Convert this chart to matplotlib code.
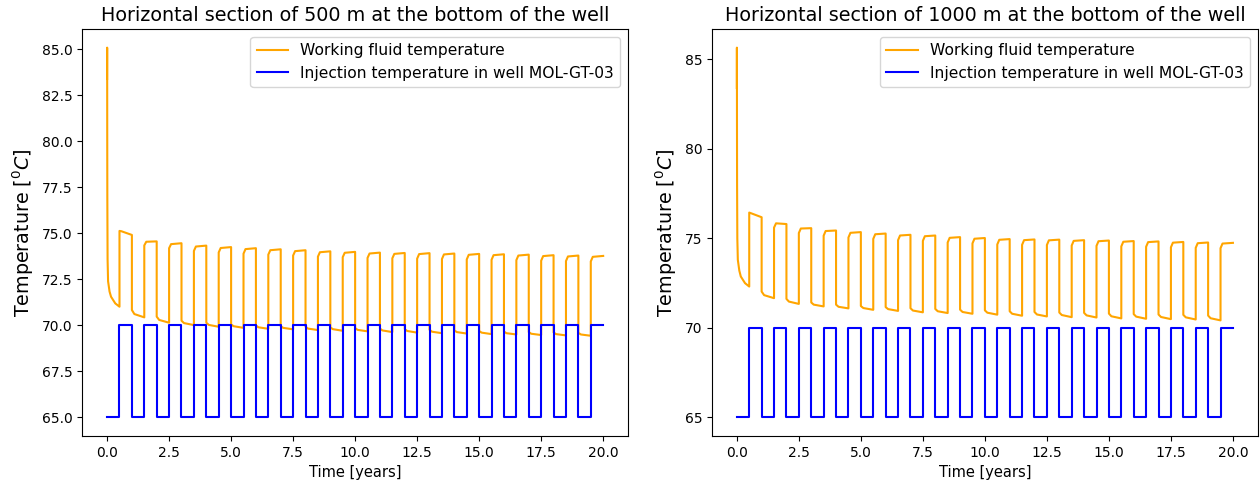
import numpy as np
import matplotlib
matplotlib.use("Agg")
import matplotlib.pyplot as plt

# ---------------- data ----------------
titles = ["Horizontal section of 500 m at the bottom of the well",
          "Horizontal section of 1000 m at the bottom of the well"]
label_fluid = "Working fluid temperature"
label_inj = "Injection temperature in well MOL-GT-03"

# injection temperature: switching times [years] and values (steps-post)
inj_switch_times = [0.0, 0.5, 1.0, 1.5, 2.0, 2.5, 3.0, 3.5, 4.0, 4.5, 5.0,
                    5.5, 6.0, 6.5, 7.0, 7.5, 8.0, 8.5, 9.0, 9.5, 10.0,
                    10.5, 11.0, 11.5, 12.0, 12.5, 13.0, 13.5, 14.0, 14.5, 15.0,
                    15.5, 16.0, 16.5, 17.0, 17.5, 18.0, 18.5, 19.0, 19.5, 20.0]
inj_temps = [65, 70, 65, 70, 65, 70, 65, 70, 65, 70, 65,
             70, 65, 70, 65, 70, 65, 70, 65, 70, 65,
             70, 65, 70, 65, 70, 65, 70, 65, 70, 65,
             70, 65, 70, 65, 70, 65, 70, 65, 70, 70]

# initial transient of working fluid temperature
init_t = [0.0, 0.003, 0.006, 0.01, 0.02, 0.04, 0.1, 0.16, 0.33, 0.5]
init_T_500 = [83.4, 85.1, 80.5, 77.0, 73.6, 72.4, 71.84, 71.56, 71.2, 71.02]
init_T_1000 = [83.4, 85.65, 81.5, 78.0, 75.0, 73.8, 73.2, 72.87, 72.5, 72.31]

# high-injection half-cycles (start at 0.5, 1.5, ... 19.5): top of rise, knee, end
high_rise_500 = [75.14, 74.35, 74.20, 74.05, 73.97, 73.90, 73.85, 73.80, 73.74, 73.71,
                 73.67, 73.65, 73.63, 73.61, 73.59, 73.57, 73.55, 73.52, 73.50, 73.48]
high_knee_500 = [75.12, 74.55, 74.42, 74.29, 74.21, 74.15, 74.09, 74.04, 73.98, 73.95,
                 73.91, 73.89, 73.88, 73.86, 73.84, 73.82, 73.80, 73.77, 73.75, 73.73]
high_end_500 = [74.92, 74.57, 74.47, 74.34, 74.26, 74.20, 74.14, 74.09, 74.03, 74.00,
                73.96, 73.94, 73.93, 73.91, 73.89, 73.87, 73.85, 73.82, 73.80, 73.78]
# low-injection half-cycles (start at 1.0, 2.0, ... 19.0): bottom of drop, knee, end
low_drop_500 = [70.84, 70.48, 70.26, 70.15, 70.06, 70.00, 69.96, 69.93, 69.90, 69.86,
                69.83, 69.80, 69.76, 69.73, 69.70, 69.67, 69.64, 69.62, 69.60]
low_knee_500 = [70.62, 70.30, 70.13, 70.03, 69.96, 69.90, 69.87, 69.83, 69.80, 69.76,
                69.73, 69.70, 69.66, 69.64, 69.61, 69.58, 69.55, 69.53, 69.51]
low_end_500 = [70.44, 70.15, 70.02, 69.93, 69.87, 69.82, 69.79, 69.75, 69.71, 69.68,
               69.64, 69.61, 69.58, 69.56, 69.53, 69.51, 69.48, 69.46, 69.44]

high_rise_1000 = [76.44, 75.60, 75.30, 75.15, 75.05, 74.97, 74.90, 74.86, 74.77, 74.72,
                  74.66, 74.64, 74.63, 74.60, 74.58, 74.55, 74.53, 74.50, 74.47, 74.45]
high_knee_1000 = [76.40, 75.84, 75.55, 75.41, 75.31, 75.23, 75.16, 75.12, 75.03, 74.98,
                  74.92, 74.90, 74.89, 74.86, 74.84, 74.81, 74.79, 74.76, 74.73, 74.71]
high_end_1000 = [76.18, 75.80, 75.57, 75.44, 75.35, 75.27, 75.20, 75.16, 75.07, 75.02,
                 74.96, 74.94, 74.93, 74.90, 74.88, 74.85, 74.83, 74.80, 74.77, 74.75]
low_drop_1000 = [72.03, 71.62, 71.42, 71.30, 71.22, 71.16, 71.10, 71.06, 71.02, 70.98,
                 70.93, 70.89, 70.86, 70.84, 70.80, 70.77, 70.75, 70.73, 70.69]
low_knee_1000 = [71.83, 71.47, 71.30, 71.18, 71.11, 71.05, 70.97, 70.93, 70.89, 70.85,
                 70.79, 70.75, 70.72, 70.70, 70.65, 70.63, 70.61, 70.59, 70.54]
low_end_1000 = [71.66, 71.34, 71.20, 71.09, 71.01, 70.95, 70.87, 70.83, 70.79, 70.74,
                70.68, 70.64, 70.60, 70.58, 70.53, 70.51, 70.49, 70.47, 70.42]

yticks_500 = [65.0, 67.5, 70.0, 72.5, 75.0, 77.5, 80.0, 82.5, 85.0]
yticks_1000 = [65, 70, 75, 80, 85]
xticks = [0.0, 2.5, 5.0, 7.5, 10.0, 12.5, 15.0, 17.5, 20.0]


def build_fluid(init_T, hr, hk, he, ld, lk, le):
    t = list(init_t)
    T = list(init_T)
    high_starts = inj_switch_times[1:-1:2]
    low_starts = inj_switch_times[2:-1:2]
    for k, t0 in enumerate(high_starts):
        t += [t0, t0 + 0.08, t0 + 0.5]
        T += [hr[k], hk[k], he[k]]
        if k < len(low_starts):
            t1 = low_starts[k]
            t += [t1, t1 + 0.1, t1 + 0.5]
            T += [ld[k], lk[k], le[k]]
    return np.array(t), np.array(T)


series = [
    build_fluid(init_T_500, high_rise_500, high_knee_500, high_end_500,
                low_drop_500, low_knee_500, low_end_500),
    build_fluid(init_T_1000, high_rise_1000, high_knee_1000, high_end_1000,
                low_drop_1000, low_knee_1000, low_end_1000),
]
yticks = [yticks_500, yticks_1000]
yfmt = ["{:.1f}", "{:d}"]

fig = plt.figure(figsize=(12.6, 4.86), dpi=100)
positions = [[0.0653, 0.103, 0.4331, 0.837], [0.5651, 0.103, 0.4331, 0.837]]

for i in range(2):
    ax = fig.add_axes(positions[i])
    tf, Tf = series[i]
    ax.plot(tf, Tf, color="orange", lw=1.5, label=label_fluid)
    ax.plot(inj_switch_times, inj_temps, color="blue", lw=1.5,
            drawstyle="steps-post", label=label_inj)
    ax.set_title(titles[i], fontsize=13.8)
    ax.set_xlabel("Time [years]", fontsize=10.5)
    ax.set_ylabel("Temperature [$^0C$]", fontsize=13.8)
    ax.set_xticks(xticks)
    ax.set_yticks(yticks[i])
    ax.set_yticklabels([yfmt[i].format(v) for v in yticks[i]])
    ax.legend(loc="upper right", fontsize=11.2)

fig.savefig("out.png", dpi=100)
